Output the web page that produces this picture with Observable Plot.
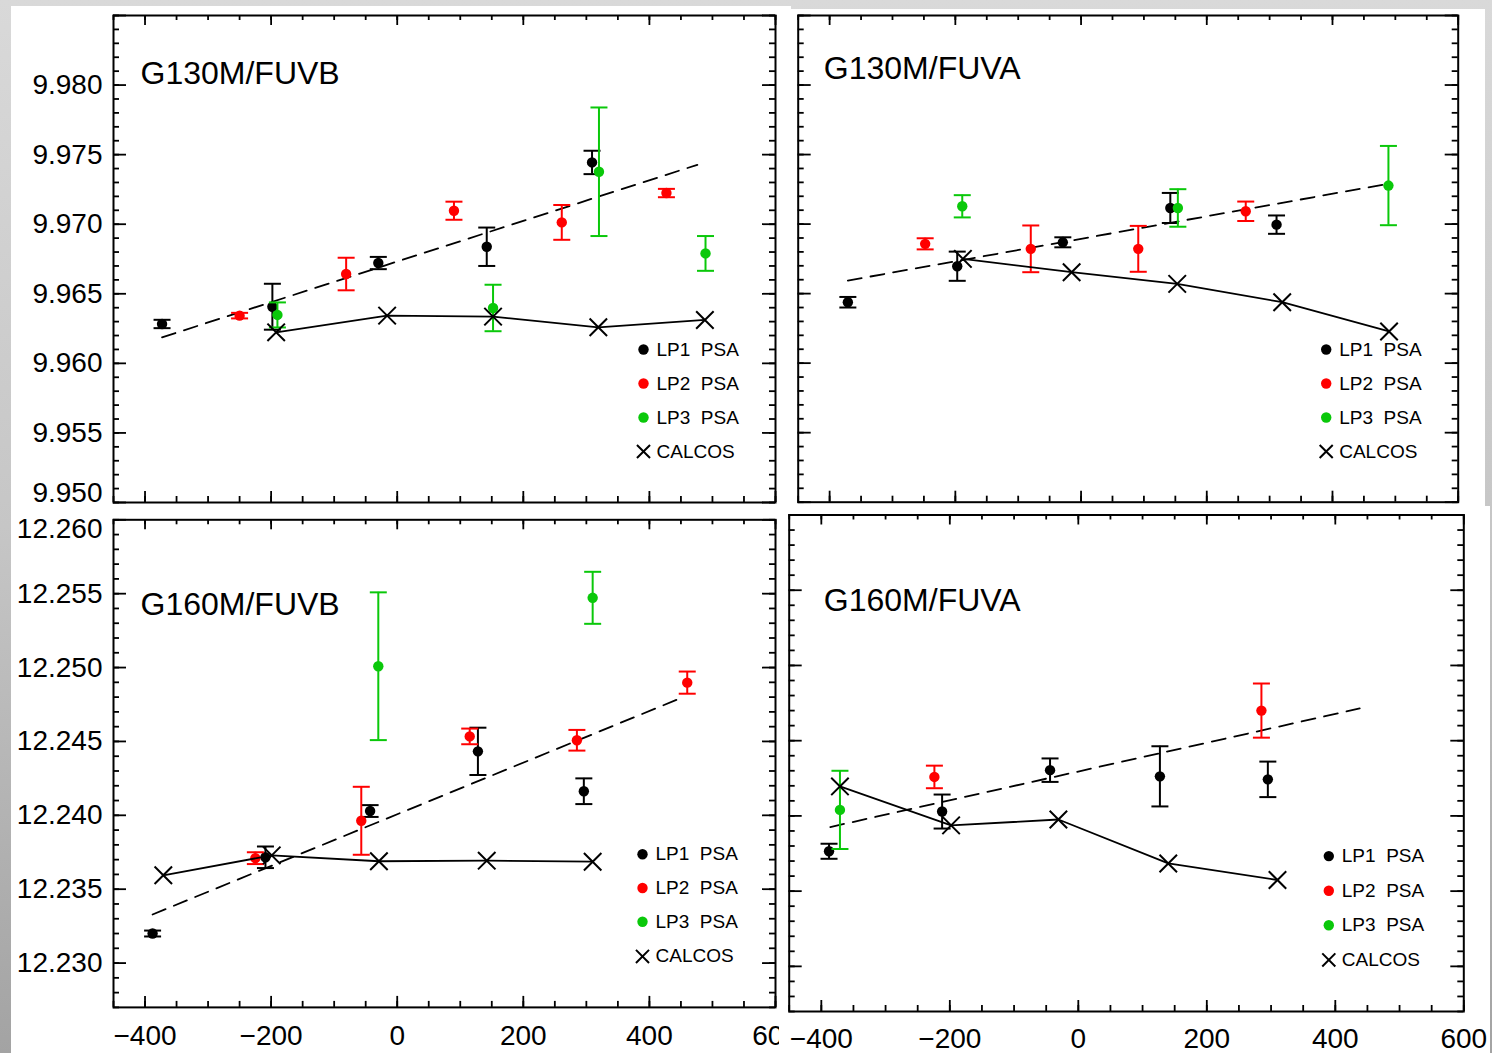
<!DOCTYPE html>
<html><head><meta charset="utf-8">
<script src="https://cdn.jsdelivr.net/npm/d3@7"></script>
<script src="https://cdn.jsdelivr.net/npm/@observablehq/plot@0.6"></script>
<style>
html,body{margin:0;padding:0;}
body{width:1492px;height:1053px;overflow:hidden;position:relative;
 background:linear-gradient(to bottom,#d9d9d9 0%,#c6c6c6 50%,#a3a3a3 100%);
 font-family:"Liberation Sans",Arial,Helvetica,sans-serif;}
.panel{position:absolute;background:#fff;}
.panel svg{display:block;overflow:visible;}
</style></head><body>
<div id="p1" class="panel" style="left:11px;top:6px"></div>
<div id="p2" class="panel" style="left:785px;top:9px"></div>
<div id="p3" class="panel" style="left:11px;top:508px"></div>
<div id="p4" class="panel" style="left:779px;top:506px"></div>
<script>
// ---------- axes ----------
const X_DOMAIN = [-450, 600];
const X_LABELS = [-400, -200, 0, 200, 400, 600];
const Y_DOMAIN_G130M = [9.950, 9.985];
const Y_LABELS_G130M = [9.955, 9.960, 9.965, 9.970, 9.975, 9.980];
const Y_BOTTOM_LABEL_G130M = [9.950];
const Y_DOMAIN_G160M = [12.227, 12.260];
const Y_LABELS_G160M = [12.230, 12.235, 12.240, 12.245, 12.250, 12.255];
const Y_TOP_LABEL_G160M = [12.260];

const LEGEND_LABELS = ["LP1\u00a0\u00a0PSA", "LP2\u00a0\u00a0PSA", "LP3\u00a0\u00a0PSA", "CALCOS"];
const SERIES_COLORS = ["#000000", "#ff0000", "#0ac80a"];

// ---------- data: [x, value, error] ----------
const G130M_FUVB_LP1 = [[-373, 9.96283, 0.0003], [-198, 9.96407, 0.00165], [-30, 9.96721, 0.00044], [142, 9.96838, 0.00138], [309, 9.97444, 0.00084]];
const G130M_FUVB_LP2 = [[-250, 9.96343, 0.0002], [-81, 9.96642, 0.00117], [90, 9.97097, 0.00065], [261, 9.97013, 0.00125], [427, 9.97224, 0.0003]];
const G130M_FUVB_LP3 = [[-190, 9.96348, 0.0009], [152, 9.96398, 0.00167], [320, 9.97377, 0.00462], [489, 9.96790, 0.00125]];
const G130M_FUVB_CALCOS = [[-192, 9.96223], [-16, 9.96343], [152, 9.96336], [319, 9.96259], [488, 9.96312]];
const G130M_FUVB_FIT = [[-373, 9.96187], [476, 9.97427]];

const G130M_FUVA_LP1 = [[-371, 9.96438, 0.00038], [-197, 9.96697, 0.00105], [-29, 9.96869, 0.00036], [142, 9.97116, 0.00108], [311, 9.96996, 0.00066]];
const G130M_FUVA_LP2 = [[-248, 9.96858, 0.0004], [-80, 9.96822, 0.00168], [91, 9.96822, 0.00165], [262, 9.97092, 0.0007]];
const G130M_FUVA_LP3 = [[-189, 9.97128, 0.0008], [154, 9.97116, 0.00135], [489, 9.97277, 0.00285]];
const G130M_FUVA_CALCOS = [[-188, 9.96750], [-15, 9.96654], [153, 9.96570], [320, 9.96438], [490, 9.96228]];
const G130M_FUVA_FIT = [[-371, 9.96594], [488, 9.97289]];

const G160M_FUVB_LP1 = [[-388, 12.23200, 0.0002], [-209, 12.23716, 0.00073], [-43, 12.24029, 0.0004], [128, 12.24433, 0.0016], [296, 12.24163, 0.00087]];
const G160M_FUVB_LP2 = [[-225, 12.23710, 0.0004], [-57, 12.23963, 0.0023], [115, 12.24534, 0.00053], [285, 12.24508, 0.0007], [460, 12.24898, 0.00075]];
const G160M_FUVB_LP3 = [[-30, 12.25009, 0.005], [310, 12.25472, 0.00176]];
const G160M_FUVB_CALCOS = [[-371, 12.23594], [-199, 12.23729], [-29, 12.23689], [142, 12.23693], [310, 12.23686]];
const G160M_FUVB_FIT = [[-388, 12.23329], [452, 12.24797]];

const G160M_FUVA_LP1 = [[-388, 12.23765, 0.0005], [-212, 12.24029, 0.00113], [-44, 12.24304, 0.00078], [127, 12.24263, 0.002], [295, 12.24243, 0.00118]];
const G160M_FUVA_LP2 = [[-224, 12.24259, 0.00075], [285, 12.24700, 0.0018]];
const G160M_FUVA_LP3 = [[-371, 12.24040, 0.0026]];
const G160M_FUVA_CALCOS = [[-371, 12.24196], [-198, 12.23937], [-31, 12.23976], [140, 12.23684], [310, 12.23574]];
const G160M_FUVA_FIT = [[-386, 12.23926], [438, 12.24714]];

// ---------- helpers ----------
function stepTicks(a, b, step) {
  const n = Math.round((b - a) / step);
  return d3.range(n + 1).map(i => +(a + i * step).toFixed(4));
}
const capSymbol = { draw(ctx, size) { const r = Math.sqrt(size / Math.PI); ctx.moveTo(-r, 0); ctx.lineTo(r, 0); } };
const FONT = '"Liberation Sans", Arial, Helvetica, sans-serif';
const fmtY = d3.format(".3f");
const fmtX = d3.format("d");

function buildPanel(p) {
  const fw = p.width - p.ml - p.mr, fh = p.height - p.mt - p.mb;
  const k = {stroke: "#000", strokeWidth: 1.8};
  const xMinor = stepTicks(X_DOMAIN[0], X_DOMAIN[1], 50);
  const xMajor = stepTicks(-400, 600, 200);
  const yMinor = stepTicks(p.yDomain[0], p.yDomain[1], 0.001);
  const yMajor = stepTicks(p.yMajorStart, p.yDomain[1], 0.005);
  const marks = [
    Plot.tickX(xMinor, {x: d => d, insetTop: fh - 6, ...k}),
    Plot.tickX(xMajor, {x: d => d, insetTop: fh - 11, ...k}),
    Plot.tickX(xMinor, {x: d => d, insetBottom: fh - 5, ...k}),
    Plot.tickX(xMajor, {x: d => d, insetBottom: fh - 10, ...k}),
    Plot.tickY(yMinor, {y: d => d, insetRight: fw - 6, ...k}),
    Plot.tickY(yMajor, {y: d => d, insetRight: fw - 13, ...k}),
    Plot.tickY(yMinor, {y: d => d, insetLeft: fw - 6, ...k}),
    Plot.tickY(yMajor, {y: d => d, insetLeft: fw - 13, ...k}),
    Plot.frame({stroke: "#000", strokeWidth: 2}),
    Plot.line(p.fit, {x: d => d[0], y: d => d[1], stroke: "#000", strokeWidth: 1.8, strokeDasharray: "14,9"})
  ];
  p.series.forEach((s, i) => {
    if (!s.length) return;
    const c = SERIES_COLORS[i];
    marks.push(
      Plot.ruleX(s, {x: d => d[0], y1: d => d[1] - d[2], y2: d => d[1] + d[2], stroke: c, strokeWidth: 2}),
      Plot.dot(s, {x: d => d[0], y: d => d[1] + d[2], symbol: capSymbol, r: 8.5, stroke: c, strokeWidth: 2, fill: "none"}),
      Plot.dot(s, {x: d => d[0], y: d => d[1] - d[2], symbol: capSymbol, r: 8.5, stroke: c, strokeWidth: 2, fill: "none"}),
      Plot.dot(s, {x: d => d[0], y: d => d[1], r: 5.2, fill: c, stroke: "none"})
    );
  });
  marks.push(
    Plot.line(p.calcos, {x: d => d[0], y: d => d[1], stroke: "#000", strokeWidth: 1.8}),
    Plot.dot(p.calcos, {x: d => d[0], y: d => d[1], symbol: "times", r: 8, stroke: "#000", strokeWidth: 2})
  );
  // title
  marks.push(Plot.text([p.title], {frameAnchor: "top-left", dx: p.titleDx, dy: p.titleDy, text: d => d,
    textAnchor: "start", lineAnchor: "bottom", fontSize: 32, fill: "#000"}));
  // legend
  LEGEND_LABELS.forEach((lab, i) => {
    const dy = p.legendDy[i];
    if (i < 3) marks.push(Plot.dot([lab], {frameAnchor: "top-left", dx: p.legendDx, dy, r: 5.2, fill: SERIES_COLORS[i], stroke: "none"}));
    else marks.push(Plot.dot([lab], {frameAnchor: "top-left", dx: p.legendDx, dy, r: 6, symbol: "times", stroke: "#000", strokeWidth: 2}));
    marks.push(Plot.text([lab], {frameAnchor: "top-left", dx: p.legendDx + 13, dy, text: d => d,
      textAnchor: "start", lineAnchor: "middle", fontSize: 19, fill: "#000"}));
  });
  // tick labels
  const yl = {frameAnchor: "left", dx: -11, textAnchor: "end", lineAnchor: "middle", fontSize: 28, fill: "#000"};
  if (p.yLabels) marks.push(Plot.text(p.yLabels, {y: d => d, text: d => fmtY(d), ...yl}));
  if (p.yTopLabel) marks.push(Plot.text(p.yTopLabel, {y: d => d, text: d => fmtY(d), dy: 9, ...yl}));
  if (p.yBottomLabel) marks.push(Plot.text(p.yBottomLabel, {y: d => d, text: d => fmtY(d), dy: -9, ...yl}));
  if (p.xLabels) marks.push(Plot.text(p.xLabels, {x: d => d, frameAnchor: "bottom", dy: p.xLabelDy, text: d => fmtX(d),
    textAnchor: "middle", lineAnchor: "middle", fontSize: 28, fill: "#000"}));

  const svg = Plot.plot({
    width: p.width, height: p.height,
    marginLeft: p.ml, marginRight: p.mr, marginTop: p.mt, marginBottom: p.mb,
    x: {domain: X_DOMAIN, axis: null},
    y: {domain: p.yDomain, axis: null},
    style: {background: "transparent", fontFamily: FONT, overflow: "visible", color: "#000"},
    marks
  });
  const el = document.getElementById(p.id);
  el.style.width = p.width + "px";
  el.style.height = p.height + "px";
  el.appendChild(svg);
}

buildPanel({id: "p1", width: 780, height: 502, ml: 102, mr: 16, mt: 9, mb: 6,
  yDomain: Y_DOMAIN_G130M, yMajorStart: 9.950, yLabels: Y_LABELS_G130M, yBottomLabel: Y_BOTTOM_LABEL_G130M,
  series: [G130M_FUVB_LP1, G130M_FUVB_LP2, G130M_FUVB_LP3], calcos: G130M_FUVB_CALCOS, fit: G130M_FUVB_FIT,
  title: "G130M/FUVB", titleDx: 27, titleDy: 68, legendDx: 530, legendDy: [334, 368, 402, 436]});

buildPanel({id: "p2", width: 700, height: 499, ml: 12.7, mr: 27.3, mt: 6, mb: 6.3,
  yDomain: Y_DOMAIN_G130M, yMajorStart: 9.950,
  series: [G130M_FUVA_LP1, G130M_FUVA_LP2, G130M_FUVA_LP3], calcos: G130M_FUVA_CALCOS, fit: G130M_FUVA_FIT,
  title: "G130M/FUVA", titleDx: 25.6, titleDy: 63, legendDx: 528, legendDy: [334, 368, 402, 436]});

buildPanel({id: "p3", width: 800, height: 545, ml: 102, mr: 36, mt: 11.3, mb: 46.1,
  yDomain: Y_DOMAIN_G160M, yMajorStart: 12.230, yLabels: Y_LABELS_G160M, yTopLabel: Y_TOP_LABEL_G160M,
  xLabels: X_LABELS, xLabelDy: 29,
  series: [G160M_FUVB_LP1, G160M_FUVB_LP2, G160M_FUVB_LP3], calcos: G160M_FUVB_CALCOS, fit: G160M_FUVB_FIT,
  title: "G160M/FUVB", titleDx: 27, titleDy: 94.7, legendDx: 529, legendDy: [334.5, 368.2, 402, 436.6]});

buildPanel({id: "p4", width: 711, height: 547, ml: 9.7, mr: 26.7, mt: 8.5, mb: 42,
  yDomain: Y_DOMAIN_G160M, yMajorStart: 12.230,
  xLabels: X_LABELS, xLabelDy: 28,
  series: [G160M_FUVA_LP1, G160M_FUVA_LP2, G160M_FUVA_LP3], calcos: G160M_FUVA_CALCOS, fit: G160M_FUVA_FIT,
  title: "G160M/FUVA", titleDx: 34.6, titleDy: 95.5, legendDx: 539.6, legendDy: [341.1, 375.7, 410.3, 444.9]});
</script>
</body></html>
